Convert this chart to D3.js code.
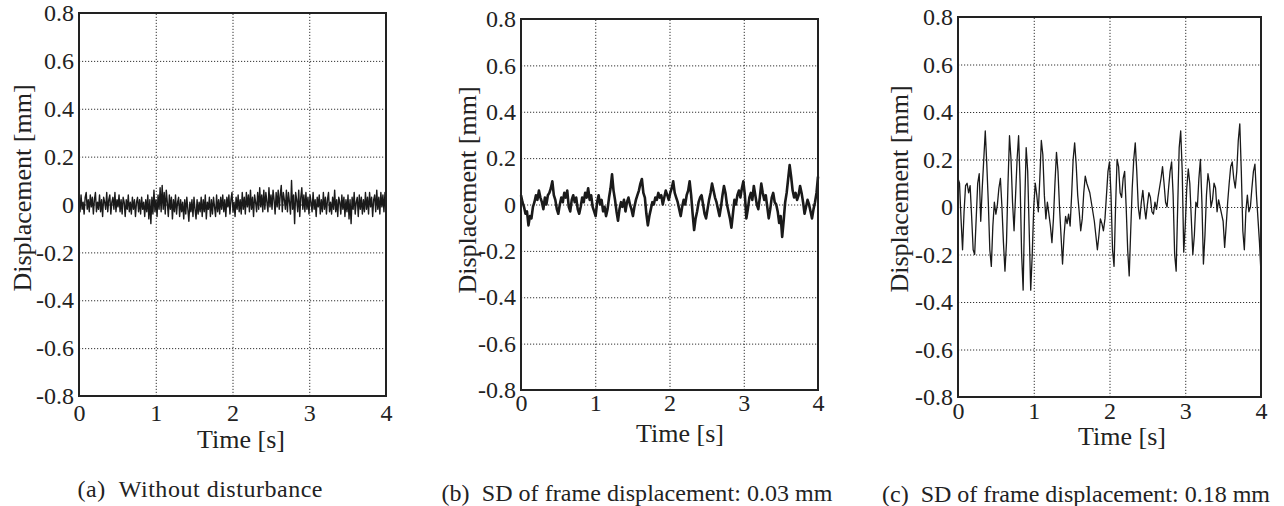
<!DOCTYPE html>
<html>
<head>
<meta charset="utf-8">
<script src="https://cdn.jsdelivr.net/npm/d3@7"></script>
<style>
body { margin: 0; background: #fff; }
.grid line { stroke: #333; stroke-width: 1; stroke-dasharray: 1.2,1.8; }
.grid path { display: none; }
.grid text { font-size: 24px; fill: #222; }
.frame { fill: none; stroke: #222; stroke-width: 2; }
.trace { fill: none; stroke: #1a1a1a; stroke-linejoin: round; }
.title { font-size: 26px; fill: #222; }
.caption { font-size: 24px; fill: #222; }
</style>
</head>
<body>
<svg id="fig" width="1284" height="506"></svg>
<script>
var serif = "Liberation Serif, DejaVu Serif, Times New Roman, serif";

// TICKS
var xTicks = [0, 1, 2, 3, 4];
var yTicks = [-0.8, -0.6, -0.4, -0.2, 0, 0.2, 0.4, 0.6, 0.8];
var xDomain = [0, 4];
var yDomain = [-0.8, 0.8];

// (a) without disturbance, displacement [mm], evenly spaced over 0-4 s
var dispA = [
 .02,-.03,.04,-.02,.01,-.04,.03,.05,-.02,.02,-.03,.04,-.01,.03,-.04,.02,.05,-.03,.01,-.02,
 .04,-.03,.02,-.05,.03,.01,-.02,.05,-.03,.02,.04,-.04,.01,.03,-.02,.05,-.03,.02,-.01,.04,
 -.03,.02,-.04,.03,.01,-.05,.02,-.02,.04,-.03,.01,-.04,.03,-.02,.02,-.05,.01,.03,-.03,.02,
 -.04,.03,-.02,.01,-.05,.02,-.03,.04,-.06,.02,-.08,.03,-.04,.06,-.03,.02,-.05,.04,-.02,.07,
 -.03,.08,-.02,.05,-.04,.06,.01,-.05,.04,-.02,.03,-.06,.02,-.03,.04,-.04,.01,.03,-.05,.02,
 -.03,.01,-.06,.02,-.04,.03,-.02,-.07,.01,-.03,.02,-.05,.03,-.02,-.06,.02,-.04,.01,-.03,.03,
 -.05,.02,-.03,.04,-.06,.01,-.02,.03,-.05,.02,-.04,.03,-.01,-.05,.04,-.03,.02,-.04,.03,-.02,
 .04,-.03,.02,-.05,.03,-.01,.04,-.04,.02,.05,-.03,.01,-.05,.03,-.02,.04,-.03,.02,-.04,.05,
 -.02,.03,-.04,.05,-.01,.04,-.03,.06,-.02,.03,-.05,.04,.01,-.03,.05,-.02,.07,-.01,.04,-.03,
 .06,-.02,.05,.01,-.03,.07,-.01,.04,-.02,.06,.02,-.04,.05,-.01,.06,-.02,.04,.08,-.03,.05,
 .02,-.02,.06,-.03,.05,.01,-.04,.10,-.02,.04,-.08,.05,.02,-.03,.06,-.05,.03,.07,-.02,.04,
 -.03,.05,-.02,.03,-.04,.04,.01,-.03,.05,-.02,.02,-.05,.03,-.01,.04,-.04,.02,-.03,.05,-.02,
 .03,-.04,.02,.05,-.03,.01,-.04,.03,-.02,.06,-.03,.02,-.05,.03,.01,-.04,.04,-.02,.03,-.05,
 .02,-.03,.04,-.06,.02,-.08,.03,-.02,.05,-.04,.01,.03,-.05,.04,-.02,.03,-.04,.02,-.03,.05,
 -.02,.03,-.04,.05,-.01,.03,-.05,.02,.04,-.03,.06,-.02,.03,-.04,.05,-.01,.04,-.03,.05,.02
];

// (b) SD of frame displacement 0.03 mm
var dispB = [
 .04,.01,-.01,-.04,-.03,-.09,-.05,-.06,-.01,.01,.04,.02,.06,.03,.01,-.02,.03,.00,.04,.05,
 .07,.10,.04,.02,-.02,-.04,.00,.03,.01,.05,.03,.06,-.01,-.03,.02,.04,.01,.03,-.02,-.04,
 -.01,.03,.01,.05,.03,.07,.02,.04,-.01,-.03,-.05,.01,.04,.00,.02,-.03,-.01,-.05,-.02,.03,
 .07,.13,.06,.02,-.03,-.07,-.02,.01,-.01,.02,-.03,.01,.03,.00,-.02,-.05,-.01,.02,.04,.06,
 .09,.11,.05,.03,-.04,-.09,-.05,-.02,.01,.00,.03,.02,.05,.03,.04,.00,.03,.06,.04,.02,
 .05,.07,.10,.05,.03,.01,-.02,-.05,-.01,.02,.00,.04,.06,.10,.04,-.04,-.11,-.06,-.03,.01,
 .03,.04,.00,-.04,-.06,-.02,.02,.05,.09,.06,.03,.01,-.02,-.05,-.01,.04,.08,.05,.00,-.03,
 -.06,-.10,-.04,.02,.00,.04,.06,.03,.07,.10,.04,-.06,-.02,.03,.05,.02,.08,.04,.00,-.02,
 .03,.09,.05,.02,.04,-.01,-.06,-.02,.03,.05,.01,.00,-.03,-.08,-.05,-.14,-.07,.01,.05,.11,
 .17,.12,.06,.03,.05,.02,.04,.08,.05,.01,-.04,-.01,.02,.00,-.03,-.06,-.02,.01,.05,.12
];

// (c) SD of frame displacement 0.18 mm
var dispC = [
 .12,.10,-.05,-.18,-.02,.09,.10,.06,.09,-.04,-.18,-.20,-.05,.10,.14,-.06,.08,.20,.32,.18,
 .02,-.18,-.25,-.08,.02,-.03,.01,.08,.12,.00,-.15,-.27,-.15,.10,.30,.20,.02,-.10,.05,.20,
 .30,.10,-.20,-.35,.00,.25,.15,-.10,-.35,-.20,.00,.10,.05,-.02,.12,.28,.22,.05,-.05,.02,
 -.03,-.08,-.15,-.05,.10,.23,.15,.00,-.12,-.24,-.12,-.04,-.07,-.03,-.08,.05,.20,.27,.18,.05,
 -.02,-.10,-.05,.06,.13,.10,.08,.06,.02,-.02,-.06,-.12,-.18,-.12,-.05,-.07,-.10,-.05,.05,.15,
 .19,.05,-.18,-.25,.00,.20,.17,.06,.04,.12,.15,.00,-.18,-.29,-.10,.08,.20,.27,.15,.00,
 -.05,.02,.07,.00,-.05,.01,.06,.04,-.02,-.03,.02,-.01,.04,.08,.12,.17,.10,.02,.00,.08,
 .15,.19,.05,-.20,-.27,.00,.25,.32,.15,-.19,-.08,.08,.16,.10,-.05,-.20,-.12,.02,.00,.12,
 .20,.02,-.24,-.12,.05,.14,.10,.00,.03,.10,.08,-.02,.03,.00,-.03,-.06,-.17,-.08,.02,.10,
 .17,.19,.12,.08,.15,.28,.35,.15,-.10,-.18,-.02,.05,-.02,.00,.08,.15,.18,.05,-.05,-.15,
 -.28
];

var captions = [
  "(a)\u00a0\u00a0Without disturbance",
  "(b)\u00a0\u00a0SD of frame displacement: 0.03 mm",
  "(c)\u00a0\u00a0SD of frame displacement: 0.18 mm"
];

// PANEL LAYOUT
var panels = [
  {data: dispA, left: 79, right: 386, top: 13, bottom: 396, pad: 8, lw: 1.4,
   yTx: 31, yTy: 188, xTx: 241, xTy: 448, capX: 200, capY: 497, capW: 245},
  {data: dispB, left: 521, right: 818, top: 19, bottom: 390, pad: 4, lw: 2.6,
   yTx: 476, yTy: 190, xTx: 680, xTy: 442, capX: 637, capY: 501, capW: 391},
  {data: dispC, left: 958, right: 1261, top: 17, bottom: 397, pad: 5, lw: 1.3,
   yTx: 908, yTy: 189, xTx: 1122, xTy: 445, capX: 1076, capY: 502, capW: 388}
];

var svg = d3.select("#fig").attr("font-family", serif);

function fmt(d) { return d === 0 ? "0" : d.toFixed(1); }

panels.forEach(function(p, k) {
  var w = p.right - p.left, h = p.bottom - p.top;
  var x = d3.scaleLinear().domain(xDomain).range([0, w]);
  var y = d3.scaleLinear().domain(yDomain).range([h, 0]);

  var g = svg.append("g").attr("transform", "translate(" + p.left + "," + p.top + ")");

  // grid + tick labels
  g.append("g").attr("class", "grid")
    .call(d3.axisLeft(y).tickValues(yTicks).tickSize(-w).tickPadding(5).tickFormat(fmt))
    .attr("font-family", serif);
  g.append("g").attr("class", "grid")
    .attr("transform", "translate(0," + h + ")")
    .call(d3.axisBottom(x).tickValues(xTicks).tickSize(-h).tickPadding(p.pad).tickFormat(d3.format("d")))
    .attr("font-family", serif);

  // signal
  var n = p.data.length;
  var line = d3.line()
    .x(function(d, i) { return x(i * 4 / (n - 1)); })
    .y(function(d) { return y(d); });
  g.append("path").datum(p.data).attr("class", "trace")
    .attr("stroke-width", p.lw).attr("d", line);

  g.append("rect").attr("class", "frame").attr("width", w).attr("height", h);

  // axis titles
  svg.append("text").attr("class", "title")
    .attr("font-family", serif)
    .attr("transform", "translate(" + p.yTx + "," + p.yTy + ") rotate(-90)")
    .attr("text-anchor", "middle").text("Displacement [mm]");
  svg.append("text").attr("class", "title")
    .attr("font-family", serif)
    .attr("x", p.xTx).attr("y", p.xTy).attr("text-anchor", "middle")
    .text("Time [s]");

  svg.append("text").attr("class", "caption")
    .attr("font-family", serif)
    .attr("x", p.capX - p.capW / 2).attr("y", p.capY)
    .attr("textLength", p.capW).attr("lengthAdjust", "spacing")
    .text(captions[k]);
});
</script>
</body>
</html>
